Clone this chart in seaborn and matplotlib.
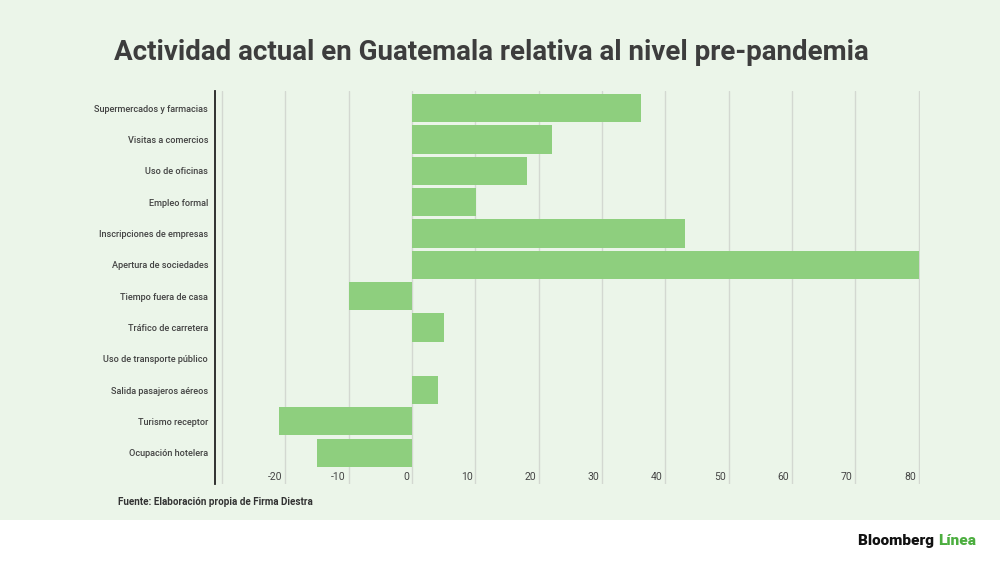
import matplotlib
matplotlib.use("Agg")
import matplotlib.pyplot as plt
import pandas as pd
import seaborn as sns

# ==========================================================
# Data
# ==========================================================

categories = [
    "Supermercados y farmacias",
    "Visitas a comercios",
    "Uso de oficinas",
    "Empleo formal",
    "Inscripciones de empresas",
    "Apertura de sociedades",
    "Tiempo fuera de casa",
    "Tráfico de carretera",
    "Uso de transporte público",
    "Salida pasajeros aéreos",
    "Turismo receptor",
    "Ocupación hotelera",
]
values = [36.1, 22.1, 18.1, 10.1, 43.1, 80.0, -9.9, 5.0, 0.0, 4.1, -21.0, -15.0]
x_ticks = [-30, -20, -10, 0, 10, 20, 30, 40, 50, 60, 70, 80]
x_tick_labels = ["", "-20", "-10", "0", "10", "20", "30", "40", "50", "60", "70", "80"]

title = "Actividad actual en Guatemala relativa al nivel pre-pandemia"
source = "Fuente: Elaboración propia de Firma Diestra"

df = pd.DataFrame({"categoria": categories, "valor": values})

# ==========================================================
# Style
# ==========================================================

BG = "#ebf5e9"
BAR = "#8ecf7e"
GRID = "#d3d8d1"
TEXT = "#444444"

sns.set_style("white")
plt.rcParams["font.family"] = ["Roboto", "DejaVu Sans"]

fig = plt.figure(figsize=(10, 5.62), dpi=100)
fig.patch.set_facecolor("white")

# green panel behind everything except the logo strip
bg_ax = fig.add_axes([0, 1 - 520 / 562, 1, 520 / 562], zorder=-10)
bg_ax.set_facecolor(BG)
bg_ax.set_xticks([])
bg_ax.set_yticks([])
for s in bg_ax.spines.values():
    s.set_visible(False)

ax = fig.add_axes([0.215, 1 - 484 / 562, 0.705, 393 / 562])
ax.set_facecolor("none")

sns.barplot(data=df, x="valor", y="categoria", orient="h",
            color=BAR, saturation=1, width=0.9, linewidth=0,
            ax=ax, zorder=3)

ax.set_xlim(-31.1, 80.2)
ax.set_ylim(12.0, -0.55)

# grid
for t in x_ticks:
    ax.axvline(t, color=GRID, lw=1.0, zorder=1)

ax.set_xticks([])
for t, lab in zip(x_ticks, x_tick_labels):
    ax.annotate(lab, xy=(t, 0.018), xycoords=ax.get_xaxis_transform(),
                xytext=(-2, 0), textcoords="offset points",
                ha="right", va="center", fontsize=7.5, color=TEXT)

ax.set_xlabel("")
ax.set_ylabel("")
ax.tick_params(axis="y", length=0, pad=5, labelsize=6.6, labelcolor=TEXT)
for lab in ax.get_yticklabels():
    lab.set_fontweight("medium")

for side in ["top", "right", "bottom"]:
    ax.spines[side].set_visible(False)
ax.spines["left"].set_color("#222222")
ax.spines["left"].set_linewidth(1.3)

# ==========================================================
# Texts
# ==========================================================

fig.text(0.491, 1 - 53 / 562, title, ha="center", va="center",
         fontsize=20, fontweight="bold", color="#3d3d3d")
fig.text(0.118, 1 - 502 / 562, source, ha="left", va="center",
         fontsize=7.1, fontweight="bold", color="#333333")

# logo
logo = fig.text(0.858, 1 - 541 / 562, "Bloomberg ", ha="left", va="center",
                fontsize=11, fontweight="heavy", color="#111111")
fig.canvas.draw()
bb = logo.get_window_extent()
fig.text(bb.x1 / fig.bbox.width, 1 - 541 / 562, "Línea", ha="left", va="center",
         fontsize=11, fontweight="heavy", color="#4cae3f")

fig.savefig("out.png", dpi=100, facecolor=fig.get_facecolor())
plt.close(fig)
